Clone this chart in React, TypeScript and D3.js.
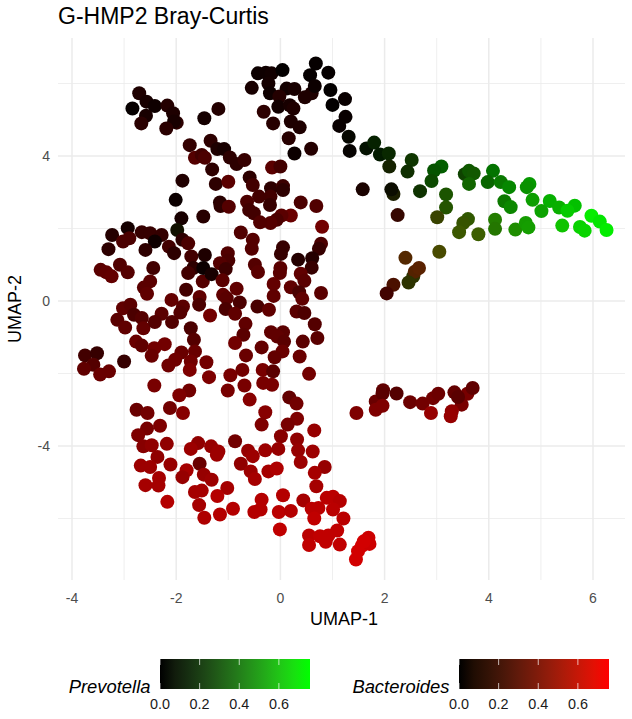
import React from 'react';
import * as d3 from 'd3';

// each sample: [UMAP-1, UMAP-2, Bacteroides, Prevotella (when present)]
const topLeftLobe = [
  [-2.71, 5.73, 0.1], [-2.57, 5.5, 0.08], [-2.41, 5.38, 0.05], [-2.84, 5.31, 0.02], [-2.58, 5.11, 0.08],
  [-2.67, 4.9, 0.14], [-2.17, 5.39, 0.12], [-2.06, 5.18, 0.1], [-1.99, 4.92, 0.15], [-2.04, 4.95, 0.08],
  [-2.19, 4.76, 0.14], [-1.19, 5.3, 0.12], [-1.46, 5.04, 0.07],
];
const topLobe = [
  [-0.43, 6.28, 0.04], [-0.28, 6.3, 0.05], [-0.17, 6.28, 0.06], [0.04, 6.37, 0.01], [0.68, 6.55, 0.02],
  [0.57, 6.23, 0.02], [0.92, 6.3, 0.02], [-0.23, 6.0, 0.07], [-0.55, 5.88, 0.08], [-0.2, 5.73, 0.05],
  [0.12, 5.86, 0.06], [0.27, 5.85, 0.08], [0.6, 5.73, 0.1], [0.47, 5.62, 0.1], [0.66, 5.93, 0.04],
  [0.96, 5.82, 0.01], [-0.02, 5.64, 0.12], [-0.04, 5.36, 0.06], [0.18, 5.4, 0.08], [0.25, 5.31, 0.1],
  [1.0, 5.41, 0.01], [1.24, 5.57, 0.03], [1.25, 5.08, 0.03], [-0.32, 5.22, 0.15], [-0.14, 4.9, 0.13],
  [0.2, 4.95, 0.1], [0.37, 4.79, 0.1], [1.13, 4.83, 0.03], [0.16, 4.49, 0.13], [0.27, 4.07, 0.04],
  [0.59, 4.2, 0.12],
];
const upperMiddle = [
  [-1.74, 4.3, 0.17], [-1.34, 4.42, 0.15], [-1.21, 4.19, 0.1], [-1.08, 4.19, 0.08], [-1.64, 3.95, 0.28],
  [-1.51, 4.03, 0.22], [-1.45, 3.95, 0.25], [-0.97, 3.96, 0.15], [-0.84, 3.78, 0.15], [-0.69, 3.89, 0.18],
  [-1.31, 3.63, 0.15], [-0.16, 3.68, 0.3], [0.0, 3.71, 0.22], [-1.88, 3.32, 0.11], [-1.24, 3.23, 0.15],
  [-1.0, 3.29, 0.3], [-0.59, 3.41, 0.15], [-0.53, 3.2, 0.22], [-0.18, 3.11, 0.15], [0.05, 3.17, 0.2],
  [0.05, 3.06, 0.15], [-2.01, 2.79, 0.04], [-0.41, 2.88, 0.22], [-0.19, 2.88, 0.22], [-0.2, 2.65, 0.18],
  [-1.16, 2.72, 0.13], [-1.15, 2.62, 0.15], [-0.99, 2.6, 0.28], [-0.64, 2.74, 0.25], [-0.6, 2.51, 0.22],
  [-0.51, 2.42, 0.22], [0.39, 2.72, 0.25], [0.69, 2.62, 0.27], [-1.9, 2.28, 0.08], [-1.48, 2.33, 0.13],
  [0.2, 2.36, 0.35], [0.02, 2.36, 0.3], [-0.07, 2.24, 0.25], [-0.19, 2.15, 0.28], [-0.39, 2.17, 0.27],
  [0.8, 2.05, 0.38],
];
const centralBand = [
  [-2.93, 2.01, 0.07], [-3.23, 1.82, 0.12], [-2.66, 1.9, 0.18], [-2.5, 1.87, 0.18], [-1.98, 1.96, 0.06, 0.05],
  [-2.28, 1.82, 0.17], [-2.41, 1.64, 0.05], [-3.02, 1.64, 0.25], [-2.9, 1.73, 0.25], [-1.88, 1.69, 0.15],
  [-1.77, 1.59, 0.25], [-0.76, 1.89, 0.27], [-0.53, 1.69, 0.28], [-3.3, 1.43, 0.15], [-2.59, 1.41, 0.15],
  [-2.14, 1.5, 0.22], [-2.04, 1.32, 0.15], [-0.55, 1.44, 0.28], [0.05, 1.48, 0.18], [0.01, 1.3, 0.18],
  [0.78, 1.58, 0.25], [0.74, 1.44, 0.18], [-1.71, 1.23, 0.22], [-1.45, 1.27, 0.1], [-1.01, 1.32, 0.27],
  [-1.0, 1.12, 0.25], [-1.16, 1.04, 0.28], [0.34, 1.14, 0.12], [0.61, 1.18, 0.12], [0.6, 0.92, 0.18],
  [-3.45, 0.86, 0.3], [-3.34, 0.79, 0.32], [-3.24, 0.68, 0.33], [-3.08, 1.0, 0.27], [-2.93, 0.79, 0.28],
  [-2.44, 0.91, 0.22], [-1.67, 0.91, 0.15], [-1.77, 0.77, 0.22], [-1.05, 0.88, 0.2], [-0.49, 1.0, 0.28],
  [-0.43, 0.8, 0.3], [0.0, 0.91, 0.3], [-0.01, 0.77, 0.3], [0.39, 0.75, 0.32], [0.46, 0.56, 0.3],
  [-2.5, 0.54, 0.3], [-2.62, 0.37, 0.3], [-2.56, 0.2, 0.32], [-1.81, 0.31, 0.22], [-1.49, 0.54, 0.28],
  [-1.48, 0.91, 0.04], [-1.32, 0.74, 0.08], [-1.11, 0.57, 0.3], [-0.13, 0.47, 0.33], [-0.13, 0.14, 0.32],
  [0.2, 0.38, 0.32], [-0.84, 0.34, 0.32], [0.36, 0.24, 0.25], [0.42, 0.06, 0.32], [0.78, 0.22, 0.3],
  [-2.09, 0.03, 0.33], [-1.55, 0.11, 0.32], [-1.1, 0.17, 0.32], [-1.03, 0.08, 0.3],
];
const lowerMiddle = [
  [-3.02, -0.2, 0.32], [-2.88, -0.1, 0.3], [-1.87, -0.15, 0.3], [-1.92, -0.32, 0.28], [-1.56, -0.1, 0.25],
  [-0.78, -0.04, 0.25], [-1.05, -0.22, 0.25], [-0.87, -0.35, 0.32], [-1.35, -0.4, 0.38], [-0.44, -0.15, 0.24],
  [-0.22, -0.24, 0.32], [0.31, -0.29, 0.3], [0.46, -0.33, 0.26], [-3.13, -0.52, 0.3], [-2.98, -0.73, 0.32],
  [-2.81, -0.38, 0.25], [-2.66, -0.47, 0.28], [-2.63, -0.75, 0.33], [-2.28, -0.35, 0.3], [-2.41, -0.58, 0.28],
  [-2.08, -0.58, 0.27], [-1.72, -0.75, 0.25], [0.66, -0.64, 0.28], [-0.67, -0.63, 0.32], [-0.71, -0.93, 0.3],
  [-0.87, -1.16, 0.38], [-0.18, -0.86, 0.32], [0.05, -0.86, 0.3], [-0.06, -0.98, 0.32], [0.07, -1.12, 0.3],
  [-1.66, -1.07, 0.28], [0.43, -1.12, 0.3], [0.71, -1.02, 0.3], [-2.77, -1.12, 0.35], [-2.66, -1.23, 0.32],
  [-2.42, -1.3, 0.38], [-2.22, -1.19, 0.38], [-2.47, -1.51, 0.35], [-1.9, -1.42, 0.35], [-1.64, -1.39, 0.35],
  [-2.02, -1.62, 0.37], [-2.15, -1.78, 0.37], [-1.72, -1.67, 0.38], [-1.74, -1.9, 0.42], [-1.42, -1.69, 0.38],
  [-0.36, -1.28, 0.33], [0.04, -1.39, 0.35], [-0.11, -1.55, 0.33], [-0.66, -1.5, 0.35], [0.37, -1.53, 0.35],
  [-3.75, -1.5, 0.22], [-3.52, -1.44, 0.18], [-3.0, -1.67, 0.18], [-3.59, -1.76, 0.28], [-3.77, -1.87, 0.32],
  [-3.46, -2.03, 0.35], [-3.29, -1.94, 0.35], [-0.73, -1.9, 0.38], [-0.96, -2.05, 0.4], [-0.34, -1.9, 0.4],
  [-0.14, -1.94, 0.3], [0.55, -2.01, 0.38], [-1.37, -2.1, 0.42], [-0.33, -2.26, 0.4], [-0.16, -2.31, 0.4],
  [-0.69, -2.33, 0.4], [-2.42, -2.33, 0.4], [-1.01, -2.47, 0.4], [-1.75, -2.47, 0.38], [-1.94, -2.6, 0.42],
  [-0.59, -2.72, 0.45], [0.17, -2.66, 0.33], [0.31, -2.83, 0.38], [-2.12, -2.95, 0.38], [-2.76, -3.0, 0.35],
  [-2.55, -3.09, 0.38], [-1.87, -3.09, 0.45], [-0.29, -3.07, 0.45], [0.32, -3.25, 0.42], [0.14, -3.41, 0.4],
  [-0.36, -3.41, 0.42],
];
const bottomLobe = [
  [-2.31, -3.44, 0.42], [-2.56, -3.52, 0.4], [-2.73, -3.7, 0.42], [0.65, -3.57, 0.5], [0.01, -3.73, 0.45],
  [0.32, -3.82, 0.48], [-0.87, -3.87, 0.38], [-2.18, -3.94, 0.48], [-2.63, -4.01, 0.45], [-2.47, -3.98, 0.48],
  [-1.58, -3.92, 0.48], [-1.72, -4.08, 0.52], [-1.33, -4.01, 0.5], [-1.19, -4.15, 0.52], [-1.22, -4.24, 0.52],
  [-0.62, -4.13, 0.5], [-0.53, -4.28, 0.52], [-0.29, -4.12, 0.52], [-0.04, -4.08, 0.5], [0.34, -4.12, 0.5],
  [0.62, -4.15, 0.52], [0.39, -4.44, 0.52], [-2.36, -4.3, 0.48], [-2.68, -4.54, 0.52], [-2.5, -4.58, 0.52],
  [-2.11, -4.51, 0.5], [-1.55, -4.49, 0.35], [-0.76, -4.49, 0.48], [0.85, -4.58, 0.5], [-1.8, -4.67, 0.55],
  [-1.88, -4.86, 0.5], [-1.47, -4.79, 0.5], [-1.32, -4.93, 0.52], [-0.57, -4.7, 0.52], [-0.49, -4.91, 0.55],
  [-0.23, -4.7, 0.55], [-0.07, -4.62, 0.58], [0.66, -4.74, 0.55], [-2.33, -4.88, 0.55], [0.69, -5.11, 0.55],
  [-2.59, -5.08, 0.55], [-2.34, -5.09, 0.55], [-1.02, -5.16, 0.55], [-1.51, -5.23, 0.55], [-1.64, -5.27, 0.55],
  [-1.21, -5.38, 0.6], [0.05, -5.36, 0.6], [-0.36, -5.48, 0.6], [0.44, -5.5, 0.55], [0.89, -5.43, 0.62],
  [1.01, -5.4, 0.62], [1.14, -5.52, 0.6], [-2.17, -5.54, 0.6], [-1.56, -5.63, 0.55], [-0.91, -5.73, 0.6],
  [-0.38, -5.75, 0.6], [-0.5, -5.82, 0.6], [-0.03, -5.82, 0.62], [0.2, -5.79, 0.6], [0.6, -5.73, 0.62],
  [0.73, -5.71, 0.62], [1.01, -5.75, 0.62], [-1.16, -5.89, 0.6], [-1.46, -5.98, 0.58], [0.65, -6.0, 0.64],
  [1.21, -6.0, 0.62], [-0.01, -6.3, 0.64], [1.09, -6.33, 0.64], [0.55, -6.47, 0.62], [0.76, -6.49, 0.64],
  [0.92, -6.47, 0.64], [0.87, -6.64, 0.64], [0.55, -6.73, 0.64], [1.14, -6.72, 0.64], [1.45, -7.13, 0.7],
  [1.49, -6.9, 0.7], [1.56, -6.76, 0.7], [1.71, -6.7, 0.68], [1.69, -6.53, 0.68], [1.6, -6.63, 0.7],
];
const rightIsland = [
  [1.46, -3.09, 0.42], [1.83, -2.77, 0.35], [1.97, -2.46, 0.32], [1.96, -2.55, 0.3], [1.83, -3.0, 0.42],
  [1.96, -2.89, 0.42], [2.23, -2.55, 0.28], [2.49, -2.79, 0.36], [2.73, -2.83, 0.38], [2.93, -2.68, 0.38],
  [3.03, -2.56, 0.36], [2.89, -3.09, 0.5], [3.48, -2.86, 0.4], [3.59, -2.56, 0.4], [3.34, -2.52, 0.33],
  [3.41, -2.65, 0.3], [3.69, -2.4, 0.32], [3.29, -3.04, 0.48], [3.27, -3.18, 0.5],
];
const prevotellaArm = [
  [1.31, 4.53, 0.02, 0.02], [1.33, 4.14, 0.02, 0.01], [1.65, 4.21, 0.01, 0.05], [1.8, 4.37, 0.02, 0.1],
  [1.91, 4.04, 0.01, 0.08], [2.08, 4.07, 0.03, 0.12], [2.09, 3.71, 0.07, 0.1], [2.52, 3.89, 0.05, 0.16],
  [2.44, 3.57, 0.05, 0.14], [3.09, 3.71, 0.01, 0.28], [2.95, 3.6, 0.02, 0.25], [2.9, 3.31, 0.04, 0.22],
  [3.54, 3.5, 0.05, 0.2], [3.62, 3.59, 0.05, 0.26], [3.71, 3.52, 0.06, 0.26], [4.08, 3.59, 0.01, 0.34],
  [3.98, 3.28, 0.03, 0.3], [3.62, 3.23, 0.06, 0.3], [4.23, 3.28, 0.03, 0.36], [4.39, 3.14, 0.02, 0.4],
  [4.78, 3.23, 0.02, 0.45], [4.73, 3.14, 0.03, 0.43], [2.68, 3.03, 0.05, 0.15], [1.58, 3.08, 0.09, 0.01],
  [2.17, 2.95, 0.09, 0.09], [2.13, 3.08, 0.04, 0.04], [3.18, 2.94, 0.09, 0.25], [3.18, 2.58, 0.12, 0.25],
  [4.84, 2.79, 0.04, 0.47], [4.3, 2.75, 0.04, 0.36], [4.42, 2.59, 0.04, 0.4], [5.17, 2.76, 0.02, 0.52],
  [5.01, 2.48, 0.04, 0.48], [5.35, 2.58, 0.03, 0.52], [5.65, 2.63, 0.01, 0.57], [5.51, 2.49, 0.02, 0.6],
  [2.25, 2.37, 0.18, 0.02], [3.01, 2.31, 0.19, 0.2], [3.6, 2.26, 0.16, 0.26], [3.51, 2.15, 0.18, 0.25],
  [3.43, 1.9, 0.2, 0.26], [3.8, 1.84, 0.2, 0.28], [4.12, 2.24, 0.12, 0.37], [4.12, 1.99, 0.12, 0.35],
  [4.51, 1.97, 0.1, 0.42], [4.71, 2.15, 0.07, 0.46], [4.76, 2.03, 0.07, 0.47], [5.41, 2.08, 0.05, 0.58],
  [5.75, 2.04, 0.03, 0.62], [5.84, 1.94, 0.03, 0.63], [5.97, 2.35, 0.02, 0.7], [6.13, 2.19, 0.01, 0.68],
  [6.26, 1.96, 0.01, 0.7], [3.05, 1.36, 0.24, 0.22], [2.4, 1.19, 0.28, 0.12], [2.55, 0.68, 0.15, 0.15],
  [2.58, 0.81, 0.28, 0.1], [2.66, 0.91, 0.3, 0.1], [2.46, 0.51, 0.15, 0.15], [2.17, 0.45, 0.25, 0.05],
  [2.04, 0.21, 0.22, 0.01],
];

const samples = [
  ...topLeftLobe, ...topLobe, ...upperMiddle, ...centralBand,
  ...lowerMiddle, ...bottomLobe, ...rightIsland, ...prevotellaArm,
];

const xTicks = [-4, -2, 0, 2, 4, 6];
const xMinor = [-3, -1, 1, 3, 5];
const yTicks = [-4, 0, 4];
const yMinor = [-6, -2, 2, 6];
const legendTicks = [0, 0.2, 0.4, 0.6];
const legendMax = 0.757;
const sansFont = '"Liberation Sans", Arial, sans-serif';

const panel = { left: 58, right: 625, top: 38, bottom: 580 };

const x = d3.scaleLinear().domain([-4, 6]).range([72, 593]);
const y = d3.scaleLinear().domain([-4, 4]).range([446, 156]);
const redChannel = d3.scaleLinear().domain([0, 0.85]).range([0, 255]).clamp(true);
const greenChannel = d3.scaleLinear().domain([0, legendMax]).range([0, 255]).clamp(true);

const pointColor = (bact: number, prev = 0) =>
  `rgb(${Math.round(redChannel(bact))},${Math.round(greenChannel(prev))},0)`;

const gradStops = d3.range(0, 1.001, 0.1);

const ColorBar = ({ id, label, left, high }: { id: string; label: string; left: number; high: string }) => {
  const interp = d3.interpolateLab('#000000', high);
  const bar = d3.scaleLinear().domain([0, legendMax]).range([left, left + 150]);
  return (
    <g>
      <defs>
        <linearGradient id={id}>
          {gradStops.map(t => <stop key={t} offset={t} stopColor={interp(t)} />)}
        </linearGradient>
      </defs>
      <rect x={left} y={659} width={150} height={30} fill={`url(#${id})`} />
      {legendTicks.map(t => (
        <g key={t}>
          <line x1={bar(t)} x2={bar(t)} y1={659} y2={665} stroke="#fff" strokeWidth={0.7} />
          <line x1={bar(t)} x2={bar(t)} y1={683} y2={689} stroke="#fff" strokeWidth={0.7} />
          <text x={bar(t)} y={709} textAnchor="middle" fontSize={14.4} fill="#1a1a1a">{t.toFixed(1)}</text>
        </g>
      ))}
      <text x={left - 9.5} y={693} textAnchor="end" fontSize={18.4} fontStyle="italic" fill="#000">{label}</text>
    </g>
  );
};

export default function App() {
  return (
    <svg width={632} height={719} fontFamily={sansFont}
      style={{ position: 'absolute', left: 0, top: 0, display: 'block', background: '#fff' }}>
      <text x={58} y={24} fontSize={23} fill="#000">G-HMP2 Bray-Curtis</text>

      {yMinor.map(t => <line key={t} x1={panel.left} x2={panel.right} y1={y(t)} y2={y(t)} stroke="#ebebeb" strokeWidth={0.8} />)}
      {xMinor.map(t => <line key={t} y1={panel.top} y2={panel.bottom} x1={x(t)} x2={x(t)} stroke="#ebebeb" strokeWidth={0.8} />)}
      {yTicks.map(t => <line key={t} x1={panel.left} x2={panel.right} y1={y(t)} y2={y(t)} stroke="#ebebeb" strokeWidth={1.5} />)}
      {xTicks.map(t => <line key={t} y1={panel.top} y2={panel.bottom} x1={x(t)} x2={x(t)} stroke="#ebebeb" strokeWidth={1.5} />)}

      {samples.map((d, i) => (
        <circle key={i} cx={x(d[0])} cy={y(d[1])} r={7} fill={pointColor(d[2], d[3])} />
      ))}

      {xTicks.map(t => (
        <text key={t} x={x(t)} y={603} textAnchor="middle" fontSize={14} fill="#4d4d4d">{t}</text>
      ))}
      {yTicks.map(t => (
        <text key={t} x={50} y={y(t) + 5} textAnchor="end" fontSize={14} fill="#4d4d4d">{t}</text>
      ))}
      <text x={344} y={625} textAnchor="middle" fontSize={18} fill="#000">UMAP-1</text>
      <text transform="translate(21,309) rotate(-90)" textAnchor="middle" fontSize={18} fill="#000">UMAP-2</text>

      <ColorBar id="prevBar" label="Prevotella" left={160} high="#00ff00" />
      <ColorBar id="bactBar" label="Bacteroides" left={459} high="#ff0000" />
    </svg>
  );
}
